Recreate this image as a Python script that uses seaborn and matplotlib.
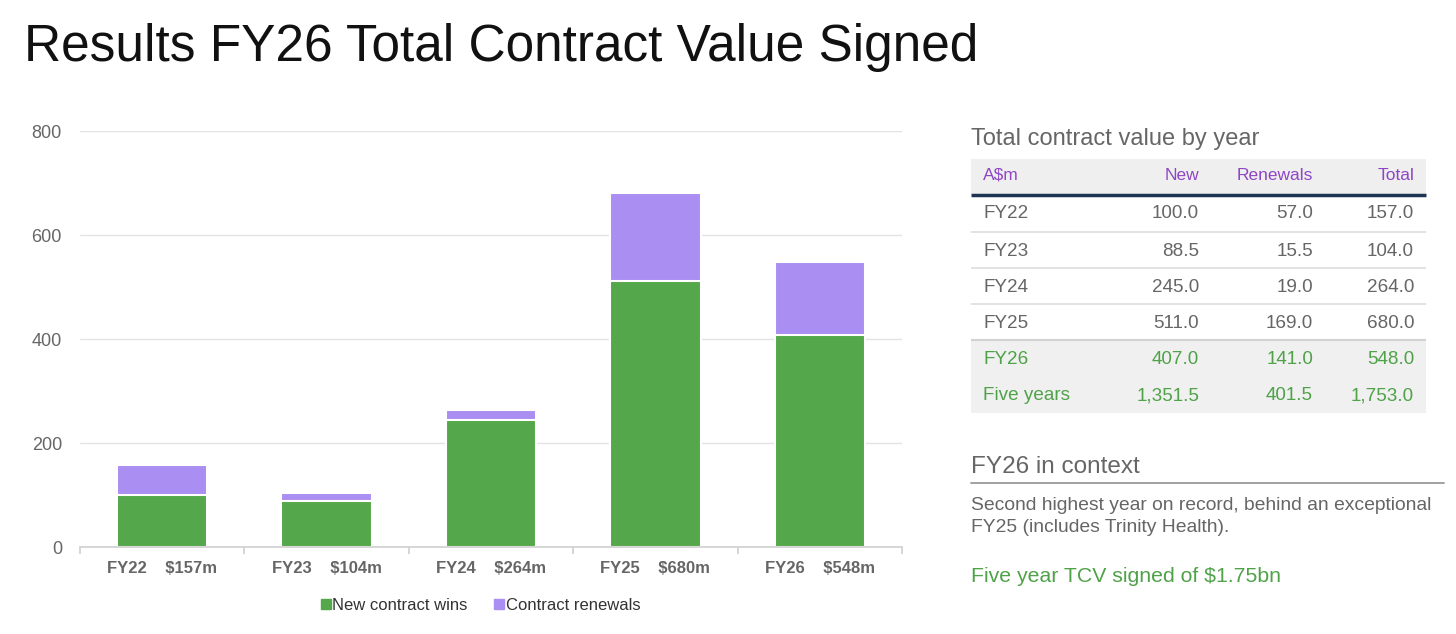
import matplotlib
matplotlib.use("Agg")
import matplotlib.pyplot as plt
import seaborn as sns
import pandas as pd
from matplotlib.lines import Line2D
from matplotlib.patches import Rectangle

years = ["FY22", "FY23", "FY24", "FY25", "FY26"]
totals_label = ["$157m", "$104m", "$264m", "$680m", "$548m"]
new_wins = [100.0, 88.5, 245.0, 511.0, 407.0]
renewals = [57.0, 15.5, 19.0, 169.0, 141.0]
totals = [157.0, 104.0, 264.0, 680.0, 548.0]

table_rows = ["FY22", "FY23", "FY24", "FY25", "FY26", "Five years"]
table_new = ["100.0", "88.5", "245.0", "511.0", "407.0", "1,351.5"]
table_ren = ["57.0", "15.5", "19.0", "169.0", "141.0", "401.5"]
table_tot = ["157.0", "104.0", "264.0", "680.0", "548.0", "1,753.0"]

GREEN = "#54a74a"
PURPLE = "#ab8ef2"
GRAY = "#666666"
TGREEN = "#4fa248"
HPURPLE = "#8f45c4"

sns.set_theme(style="white")
plt.rcParams["font.family"] = ["Liberation Sans", "DejaVu Sans"]

W, H = 1456, 634
fig = plt.figure(figsize=(W / 100, H / 100), dpi=100)

def fx(x):
    return x / W

def fy(y):
    return 1 - y / H

ax = fig.add_axes([fx(80), fy(547), fx(902) - fx(80), fy(131) - fy(547)])

df = pd.DataFrame({"year": years, "new": new_wins, "ren": renewals, "tot": totals})
sns.barplot(data=df, x="year", y="tot", color=PURPLE, saturation=1, width=0.55,
            edgecolor="white", linewidth=1.5, ax=ax)
sns.barplot(data=df, x="year", y="new", color=GREEN, saturation=1, width=0.55,
            edgecolor="white", linewidth=1.5, ax=ax)

ax.set_xlim(-0.5, 4.5)
ax.set_ylim(0, 800)
ax.set_yticks([0, 200, 400, 600, 800])
ax.yaxis.grid(True, color="#e3e3e3", linewidth=1)
ax.set_axisbelow(True)
ax.set_xlabel("")
ax.set_ylabel("")
for s in ["top", "right", "left"]:
    ax.spines[s].set_visible(False)
ax.spines["bottom"].set_color("#d0d0d0")
ax.spines["bottom"].set_linewidth(1.2)
ax.set_xticks(range(5))
ax.set_xticklabels([f"{y}    {t}" for y, t in zip(years, totals_label)],
                   fontweight="bold", fontsize=12, color="#666666")
ax.set_xticks([i - 0.5 for i in range(6)], minor=True)
ax.tick_params(axis="x", which="major", length=0, pad=10)
ax.tick_params(axis="x", which="minor", length=5, color="#d0d0d0", width=1.2, bottom=True)
ax.tick_params(axis="y", length=0, pad=13, labelsize=13, labelcolor="#666666")

handles = [Line2D([], [], marker="s", linestyle="", markersize=6.5, color=GREEN),
           Line2D([], [], marker="s", linestyle="", markersize=6.5, color=PURPLE)]
fig.legend(handles, ["New contract wins", "Contract renewals"], loc="center",
           bbox_to_anchor=(fx(478), fy(605)), ncol=2, frameon=False,
           handletextpad=-0.2, columnspacing=1.3, handlelength=1.2,
           prop={"size": 12}, labelcolor="#333333")

# Title
fig.text(fx(24), fy(48), "Results FY26 Total Contract Value Signed", fontsize=37,
         color="#111111", va="center", ha="left")

# Right panel: table
fig.text(fx(971), fy(139), "Total contract value by year", fontsize=17,
         color=GRAY, va="center", ha="left")

fig.patches.append(Rectangle((fx(971), fy(194)), fx(1426) - fx(971), fy(159) - fy(194),
                             transform=fig.transFigure, facecolor="#efefef",
                             edgecolor="none", zorder=0))
fig.patches.append(Rectangle((fx(971), fy(413)), fx(1426) - fx(971), fy(340) - fy(413),
                             transform=fig.transFigure, facecolor="#f0f0f0",
                             edgecolor="none", zorder=0))
fig.lines.append(Line2D([fx(971), fx(1426)], [fy(195), fy(195)], transform=fig.transFigure,
                        color="#1f3454", linewidth=2.5, solid_capstyle="butt"))
for yy in [232, 268, 304]:
    fig.lines.append(Line2D([fx(971), fx(1426)], [fy(yy), fy(yy)], transform=fig.transFigure,
                            color="#dedede", linewidth=1.2, solid_capstyle="butt"))
fig.lines.append(Line2D([fx(971), fx(1426)], [fy(340), fy(340)], transform=fig.transFigure,
                        color="#d2d2d2", linewidth=1.5, solid_capstyle="butt"))

col_label_x = 983
col_new_x = 1199
col_ren_x = 1313
col_tot_x = 1414
tsize = 13.6
hsize = 12.5

hy = 175
fig.text(fx(col_label_x), fy(hy), "A$m", color=HPURPLE, fontsize=hsize, va="center", ha="left")
fig.text(fx(col_new_x), fy(hy), "New", color=HPURPLE, fontsize=hsize, va="center", ha="right")
fig.text(fx(col_ren_x), fy(hy), "Renewals", color=HPURPLE, fontsize=hsize, va="center", ha="right")
fig.text(fx(col_tot_x), fy(hy), "Total", color=HPURPLE, fontsize=hsize, va="center", ha="right")

row_y = [214, 251, 287, 323, 359, 396]
for i, (lab, n, r, t) in enumerate(zip(table_rows, table_new, table_ren, table_tot)):
    c = TGREEN if i >= 4 else GRAY
    y = fy(row_y[i])
    fig.text(fx(col_label_x), y, lab, color=c, fontsize=tsize, va="center", ha="left")
    fig.text(fx(col_new_x), y, n, color=c, fontsize=tsize, va="center", ha="right")
    fig.text(fx(col_ren_x), y, r, color=c, fontsize=tsize, va="center", ha="right")
    fig.text(fx(col_tot_x), y, t, color=c, fontsize=tsize, va="center", ha="right")

# Context
fig.text(fx(971), fy(467), "FY26 in context", fontsize=17.5, color=GRAY, va="center", ha="left")
fig.lines.append(Line2D([fx(971), fx(1444)], [fy(483), fy(483)], transform=fig.transFigure,
                        color="#9a9a9a", linewidth=1.3))
fig.text(fx(971), fy(505), "Second highest year on record, behind an exceptional",
         fontsize=13.9, color=GRAY, va="center", ha="left")
fig.text(fx(971), fy(528), "FY25 (includes Trinity Health).",
         fontsize=13.9, color=GRAY, va="center", ha="left")
fig.text(fx(971), fy(576), "Five year TCV signed of $1.75bn",
         fontsize=15.3, color=TGREEN, va="center", ha="left")

fig.savefig("out.png", dpi=100, facecolor="white")
